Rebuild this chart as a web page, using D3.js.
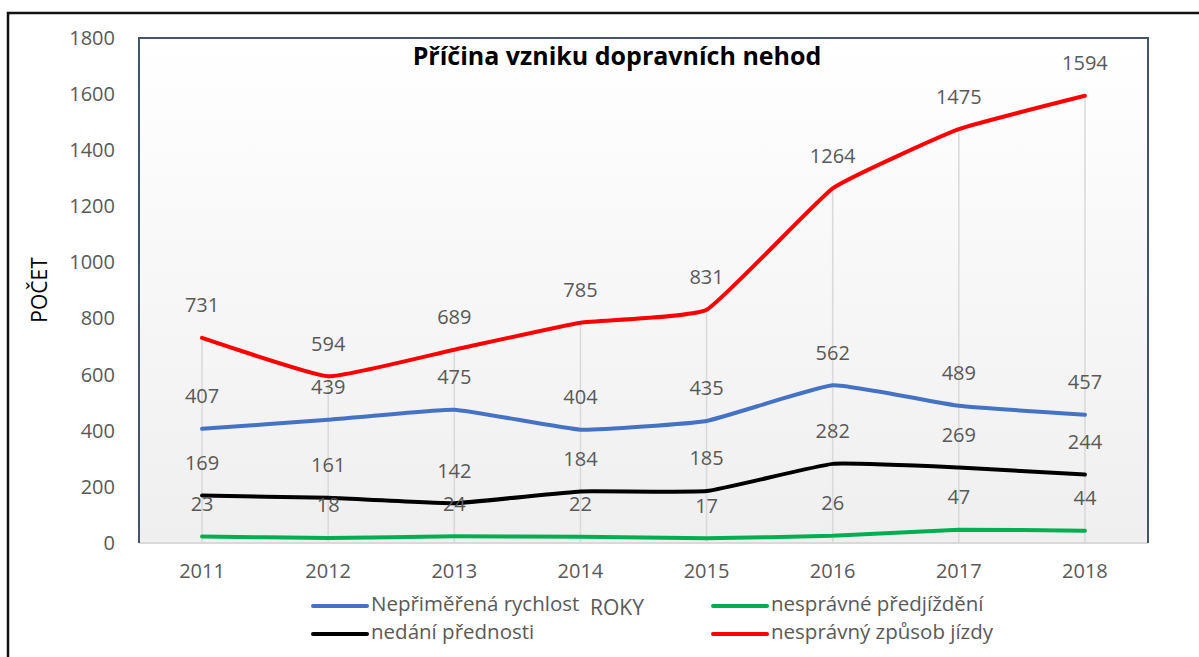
<!DOCTYPE html>
<html><head><meta charset="utf-8">
<script src="https://cdn.jsdelivr.net/npm/d3@7"></script>
<style>html,body{margin:0;padding:0;background:#fff;} svg{display:block;}</style>
</head><body>
<svg id="c" width="1199" height="657"></svg>
<script>
const years = ["2011","2012","2013","2014","2015","2016","2017","2018"];
const rychlost = [407, 439, 475, 404, 435, 562, 489, 457];
const predjizdeni = [23, 18, 24, 22, 17, 26, 47, 44];
const prednost = [169, 161, 142, 184, 185, 282, 269, 244];
const zpusob = [731, 594, 689, 785, 831, 1264, 1475, 1594];
const yTicks = [0, 200, 400, 600, 800, 1000, 1200, 1400, 1600, 1800];
const seriesNames = ["Nepřiměřená rychlost", "nesprávné předjíždění", "nedání přednosti", "nesprávný způsob jízdy"];
const seriesColors = ["#4472C4", "#00B050", "#000000", "#FF0000"];
const seriesData = [rychlost, predjizdeni, prednost, zpusob];

const FONT = "'Open Sans', sans-serif";
const svg = d3.select("#c");
const L = 139, T = 38, R = 1148, B = 543;

const x = d3.scaleBand().domain(years).range([L, R]);
const y = d3.scaleLinear().domain([0, 1800]).range([B, T]);
const cx = d => x(d) + x.bandwidth() / 2;

// outer border
svg.append("rect").attr("x", 8).attr("y", 13).attr("width", 1300).attr("height", 700)
  .attr("fill", "none").attr("stroke", "#111").attr("stroke-width", 2.5);

// plot background gradient
const defs = svg.append("defs");
const g = defs.append("linearGradient").attr("id", "bg").attr("x1", 0).attr("y1", 0).attr("x2", 0).attr("y2", 1);
g.append("stop").attr("offset", "0%").attr("stop-color", "#ffffff");
g.append("stop").attr("offset", "100%").attr("stop-color", "#efefef");
svg.append("rect").attr("x", L).attr("y", T).attr("width", R - L).attr("height", B - T).attr("fill", "url(#bg)");

// drop lines
const maxes = years.map((yr, i) => d3.max(seriesData, s => s[i]));
svg.append("g").selectAll("line").data(years).join("line")
  .attr("x1", d => cx(d)).attr("x2", d => cx(d))
  .attr("y1", (d, i) => y(maxes[i])).attr("y2", B)
  .attr("stroke", "#d9d9d9").attr("stroke-width", 1.5);

// bottom axis line
svg.append("line").attr("x1", L).attr("x2", R).attr("y1", B).attr("y2", B)
  .attr("stroke", "#d9d9d9").attr("stroke-width", 2);
// plot border left/top/right
svg.append("path").attr("d", `M${L},${B}V${T}H${R}V${B}`)
  .attr("fill", "none").attr("stroke", "#44546A").attr("stroke-width", 2);

// y axis
const yAxis = d3.axisLeft(y).tickValues(yTicks).tickFormat(d3.format("d")).tickSize(0).tickPadding(24);
const ya = svg.append("g").attr("transform", `translate(${L},0)`).call(yAxis);
ya.select(".domain").remove();
ya.selectAll("text").attr("font-family", FONT).attr("font-size", 20).attr("fill", "#595959");

// x axis
const xAxis = d3.axisBottom(x).tickSize(0).tickPadding(21);
const xa = svg.append("g").attr("transform", `translate(0,${B})`).call(xAxis);
xa.select(".domain").remove();
xa.selectAll("text").attr("font-family", FONT).attr("font-size", 20).attr("fill", "#595959");

// lines
const line = d3.line().x((d, i) => cx(years[i])).y(d => y(d)).curve(d3.curveCardinal.tension(0.65));
seriesData.forEach((s, k) => {
  svg.append("path").datum(s).attr("d", line).attr("fill", "none")
    .attr("stroke", seriesColors[k]).attr("stroke-width", 4).attr("stroke-linecap", "round").attr("stroke-linejoin", "round");
});

// data labels
seriesData.forEach((s, k) => {
  svg.append("g").selectAll("text").data(s).join("text")
    .attr("x", (d, i) => cx(years[i])).attr("y", d => y(d) - 31)
    .attr("text-anchor", "middle").attr("dominant-baseline", "middle")
    .attr("font-family", FONT).attr("font-size", 20).attr("fill", "#595959")
    .text(d => d);
});

// title
svg.append("text").attr("x", 617).attr("y", 58).attr("text-anchor", "middle").attr("dominant-baseline", "middle")
  .attr("font-family", FONT).attr("font-weight", "bold").attr("font-size", 25).attr("fill", "#000")
  .text("Příčina vzniku dopravních nehod");

// y title
svg.append("text").attr("transform", "translate(41,290) rotate(-90)")
  .attr("text-anchor", "middle").attr("dominant-baseline", "middle")
  .attr("font-family", FONT).attr("font-size", 21).attr("fill", "#000").text("POČET");

// x title
svg.append("text").attr("x", 617).attr("y", 609).attr("text-anchor", "middle").attr("dominant-baseline", "middle")
  .attr("font-family", FONT).attr("font-size", 21).attr("fill", "#595959").text("ROKY");

// legend
const legPos = [[313, 606], [713, 606], [313, 634], [713, 634]];
seriesNames.forEach((n, k) => {
  const [lx, ly] = legPos[k];
  svg.append("line").attr("x1", lx).attr("x2", lx + 54).attr("y1", ly).attr("y2", ly)
    .attr("stroke", seriesColors[k]).attr("stroke-width", 4).attr("stroke-linecap", "round");
  svg.append("text").attr("x", lx + 58).attr("y", ly).attr("dominant-baseline", "middle")
    .attr("font-family", FONT).attr("font-size", 20.5).attr("fill", "#595959").text(n);
});
</script>
</body></html>
